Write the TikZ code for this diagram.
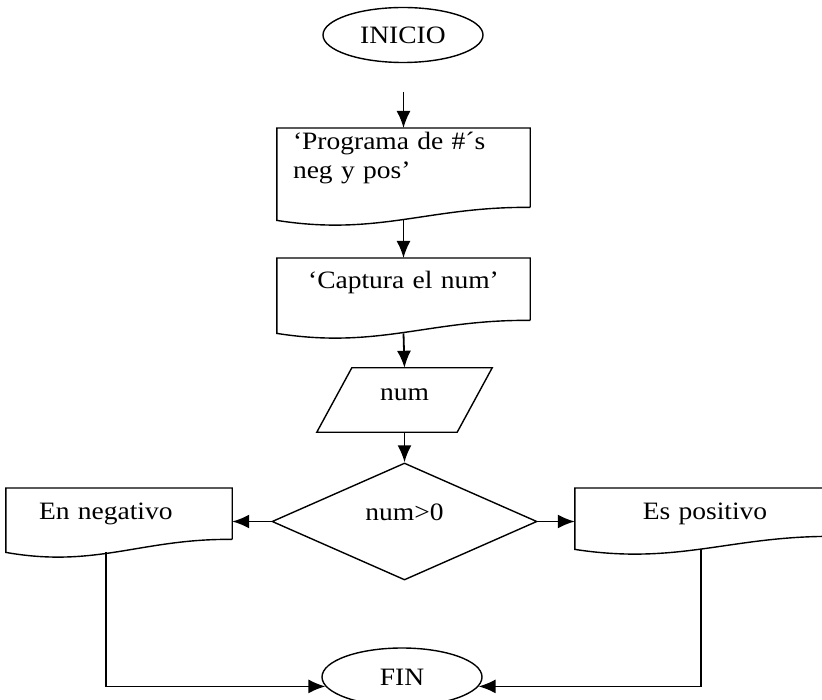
\documentclass[tikz,border=0pt]{standalone}
\usepackage{fontspec}
\setmainfont{Liberation Serif}[FakeStretch=1.1]
\usetikzlibrary{shapes.geometric,arrows.meta,calc}

% outline of a flowchart document box (wavy bottom)
\newcommand{\docshape}[1]{%
  \draw[shapeline] ($(#1.south east)+(0,13pt)$) -- (#1.north east) -- (#1.north west) -- (#1.south west)
    .. controls ($(#1.south west)!0.4!(#1.south east)+(0,-16pt)$) and ($(#1.south west)!0.6!(#1.south east)+(0,14pt)$) .. ($(#1.south east)+(0,13pt)$);}
% outline of an input box (parallelogram)
\newcommand{\parashape}[2]{%
  \draw[shapeline] ($(#1.north west)+(#2,0)$) -- ($(#1.north east)+(#2,0)$) -- ($(#1.south east)-(#2,0)$) -- ($(#1.south west)-(#2,0)$) -- cycle;}

\begin{document}
\begin{tikzpicture}[x=1pt, y=-1pt,
    every node/.style={font=\fontsize{25}{29}\selectfont},
    shapeline/.style={draw, line width=1.4pt},
    term/.style={draw, ellipse, line width=1.4pt, minimum width=160pt, inner sep=0pt},
    docbox/.style={rectangle, anchor=north, inner ysep=0pt},
    iobox/.style={rectangle, minimum width=140pt, minimum height=64pt, inner sep=0pt},
    decision/.style={draw, diamond, line width=1.4pt, minimum width=265pt, minimum height=117pt, inner sep=0pt},
    myedge/.style={-{Latex[length=17pt,width=14pt]}, line width=1.8pt}
]
\useasboundingbox (0,0) rectangle (822,700);

\node[term, minimum height=55pt] (inicio) at (403,35) {INICIO};
\node[docbox, text width=221pt, inner xsep=16pt, align=left, text height=21pt, text depth=71pt] (titulo) at (403.5,128) {`Programa de \#´s\\neg y pos'};
\node[docbox, text width=221pt, inner xsep=16pt, align=center, text height=30pt, text depth=45pt] (captura) at (403.5,258) {`Captura el num'};
\node[iobox, text depth=10pt] (leer) at (404.5,400) {num};
\node[decision, text depth=19pt] (cond) at (404.5,521.5) {num>0};
\node[docbox, text width=160pt, inner xsep=33pt, align=left, text height=31pt, text depth=33pt] (neg) at (119,488) {En negativo};
\node[docbox, text width=228pt, inner xsep=16pt, align=center, text height=31pt, text depth=30pt] (pos) at (705,488) {Es positivo};
\node[term, minimum height=58pt] (fin) at (402,677) {FIN};

\docshape{titulo}
\docshape{captura}
\docshape{neg}
\docshape{pos}
\parashape{leer}{17.5pt}

\coordinate (c0) at (403.5,92);
\draw[myedge] (c0) -- (titulo.north);
\draw[myedge] (titulo.south) -- (captura.north);
\draw[myedge] (captura.south) -- (leer.north);
\draw[myedge] (leer.south) -- (cond.north);
\draw[myedge] (cond.west) -- (cond.west -| neg.east);
\draw[myedge] (cond.east) -- (cond.east -| pos.west);
\draw[myedge] ($(neg.south)+(-13pt,0)$) |- (fin.187.6);
\draw[myedge] ($(pos.south)+(-4pt,0)$) |- (fin.-7.6);
\end{tikzpicture}
\end{document}
